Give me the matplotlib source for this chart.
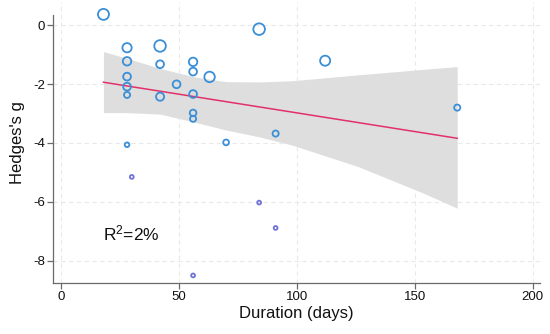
import matplotlib
matplotlib.use("Agg")
import matplotlib.pyplot as plt
import numpy as np

# Data
duration = [18, 28, 28, 28, 28, 28, 28, 30, 42, 42, 42, 49, 56, 56, 56, 56, 56, 56,
            63, 70, 84, 84, 91, 91, 112, 168]
hedges_g = [0.36, -0.77, -1.23, -1.75, -2.09, -2.37, -4.06, -5.15, -0.71, -1.33, -2.43,
            -2.01, -1.25, -1.58, -2.34, -2.98, -3.18, -8.49, -1.76, -3.98, -0.14, -6.02,
            -3.68, -6.88, -1.21, -2.80]
weights = [5.3, 3.5, 2.8, 2.25, 2.25, 1.2, 0.52, 0.27, 6.0, 2.25, 2.5, 2.25, 2.8, 2.25,
           2.25, 1.47, 1.2, 0.27, 4.7, 1.0, 6.0, 0.27, 1.2, 0.27, 4.3, 1.2]

fit_x = [18, 168]
fit_y = [-1.94, -3.84]

band_x = [18, 28, 42, 56, 70, 84, 98, 126, 154, 168]
band_upper = [-0.90, -1.13, -1.47, -1.75, -1.92, -1.93, -1.89, -1.69, -1.50, -1.41]
band_lower = [-2.97, -2.97, -3.02, -3.28, -3.56, -3.79, -4.07, -4.80, -5.71, -6.21]

x_ticks = [0, 50, 100, 150, 200]
y_ticks = [0, -2, -4, -6, -8]
r2_text = "R$^{2}$=2%"

plt.rcParams['font.family'] = ['Liberation Sans', 'DejaVu Sans']
plt.rcParams['mathtext.default'] = 'regular'
plt.rcParams['mathtext.fontset'] = 'custom'
plt.rcParams['mathtext.rm'] = 'Liberation Sans'

fig = plt.figure(figsize=(5.5, 3.34), dpi=100)
ax = fig.add_axes([53.3 / 550, 1 - 282.7 / 334, (540 - 53.3) / 550, (282.7 - 2) / 334])

ax.set_xlim(-3.27, 203.1)
ax.set_ylim(-8.736, 0.78)

grid_kw = dict(color="#e9e9e9", lw=0.8, dashes=(4, 3), zorder=0)
for t in x_ticks:
    ax.axvline(t, **grid_kw)
for t in y_ticks:
    ax.axhline(t, **grid_kw)

ax.fill_between(band_x, band_lower, band_upper, color="#dedede", lw=0, zorder=1)
ax.plot(fit_x, fit_y, color="#e2306b", lw=1.1, zorder=3)

w = np.array(weights)
diam_pt = 1.1 * (1.13 + 0.76 * np.sqrt(12 * w))
sizes = diam_pt ** 2
colors = ["#6f72d6" if wi < 0.4 else "#3a8fd6" for wi in weights]
ax.scatter(duration, hedges_g, s=sizes, facecolors="none", edgecolors=colors,
           linewidths=1.3, zorder=4, clip_on=False)

ax.text(18, -7.08, r2_text, fontsize=12.5, ha="left", va="center", color="#111111")

for s in ["top", "right"]:
    ax.spines[s].set_visible(False)
for s in ["left", "bottom"]:
    ax.spines[s].set_color("#6a6a6a")
    ax.spines[s].set_linewidth(0.9)
ax.spines["left"].set_bounds(-8.736, 0.34)

ax.set_xticks(x_ticks)
ax.set_yticks(y_ticks)
ax.set_yticklabels([str(t) for t in y_ticks])
ax.tick_params(axis="both", direction="out", length=4, width=0.9, color="#6a6a6a",
               labelsize=9.5, labelcolor="#111111", pad=2)

ax.set_xlabel("Duration (days)", fontsize=12, color="#111111", labelpad=2)
ax.set_ylabel("Hedges's g", fontsize=12, color="#111111", labelpad=6)

fig.savefig("out.png", dpi=100)
